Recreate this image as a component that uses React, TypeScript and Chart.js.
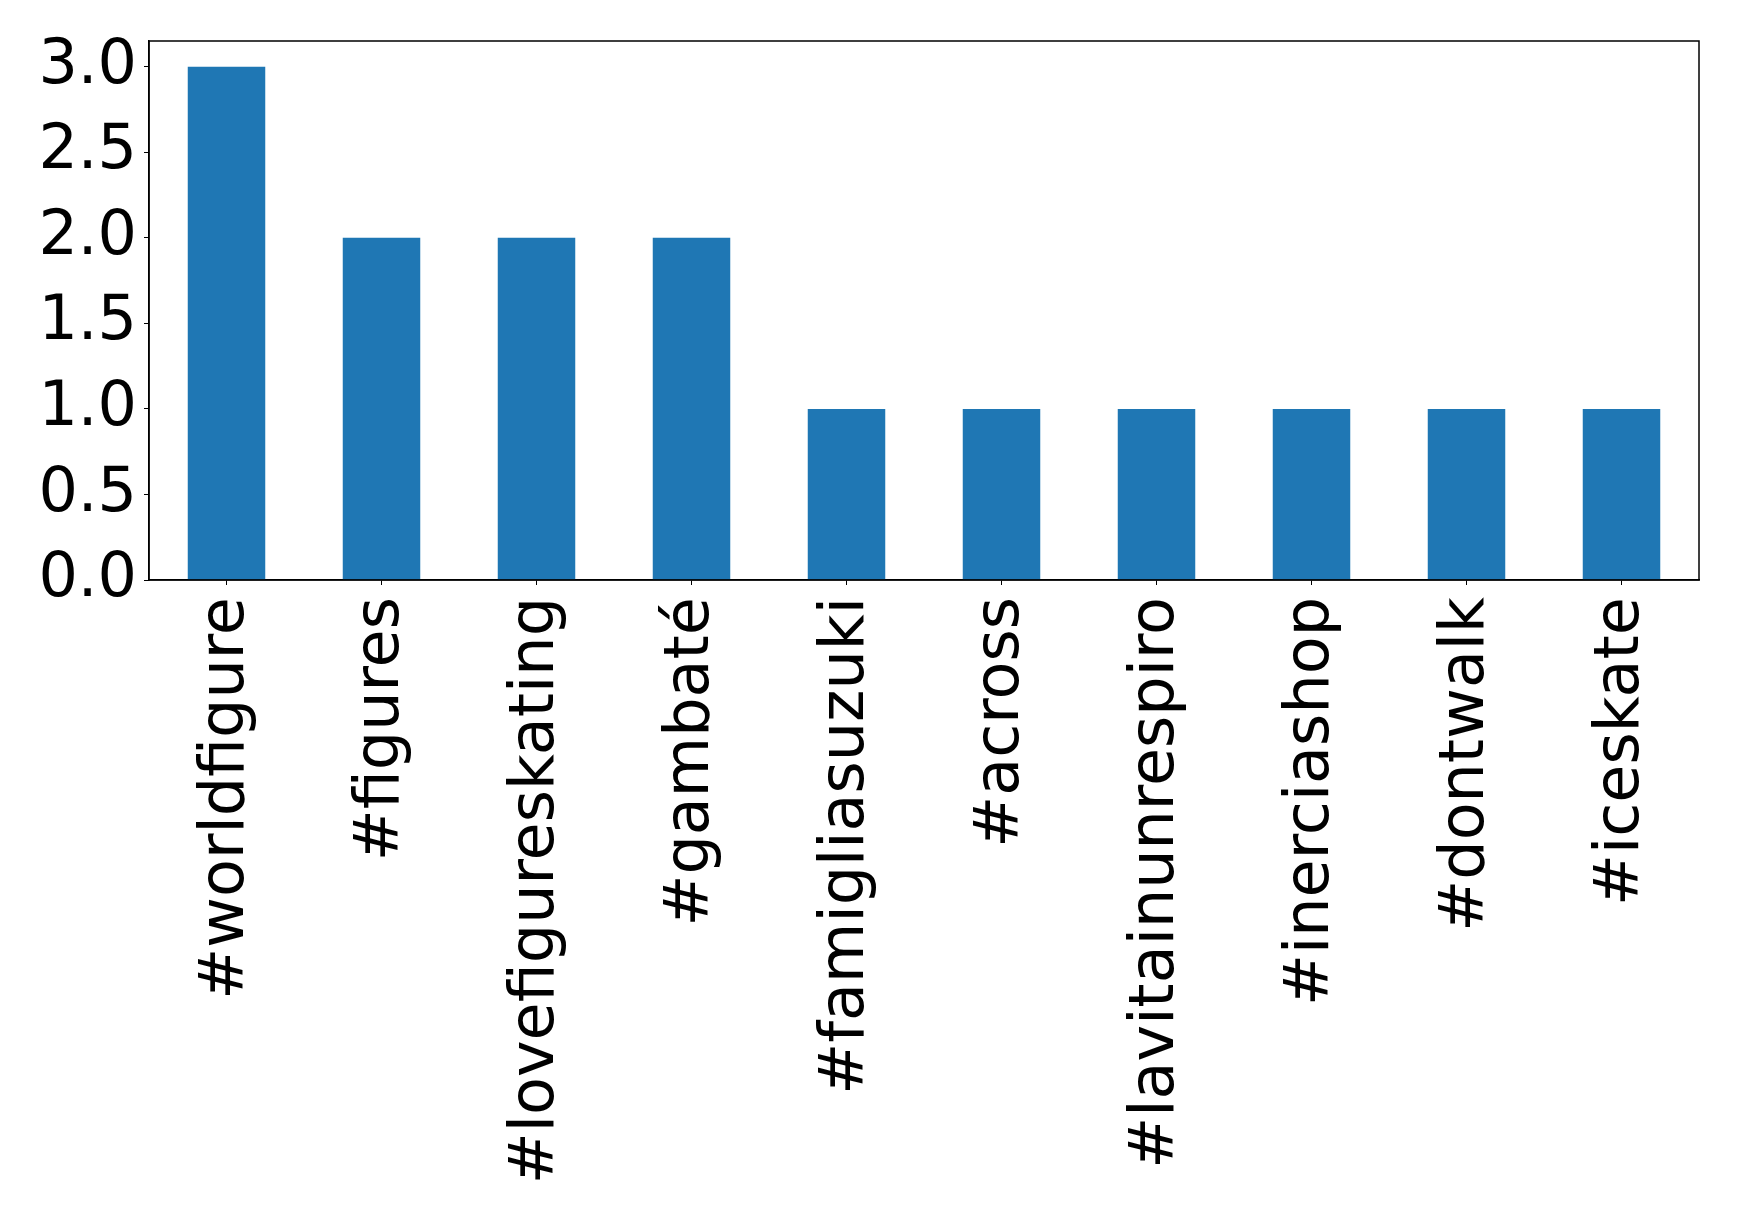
import React, { useEffect, useRef } from "react";
import { Chart, registerables } from "chart.js";

Chart.register(...registerables);

const categories = [
  "#worldfigure",
  "#figures",
  "#lovefigureskating",
  "#gambaté",
  "#famigliasuzuki",
  "#across",
  "#lavitainunrespiro",
  "#inerciashop",
  "#dontwalk",
  "#iceskate",
];
const counts = [3, 2, 2, 2, 1, 1, 1, 1, 1, 1];
const yTicks = [0, 0.5, 1.0, 1.5, 2.0, 2.5, 3.0];
const yMax = 3.15;

const W = 1739;
const H = 1220;
const FONT = "'DejaVu Sans'";
const FONT_SIZE = 62;

const framePlugin = {
  id: "frame",
  afterDraw(chart: any) {
    const { ctx, chartArea } = chart;
    ctx.save();
    ctx.strokeStyle = "#000";
    ctx.lineWidth = 1.5;
    ctx.strokeRect(chartArea.left, chartArea.top, chartArea.right - chartArea.left, chartArea.bottom - chartArea.top);
    ctx.restore();
  },
};

export default function App() {
  const ref = useRef<HTMLCanvasElement | null>(null);
  useEffect(() => {
    document.body.style.margin = "0";
    const chart = new Chart(ref.current as HTMLCanvasElement, {
      type: "bar",
      data: {
        labels: categories,
        datasets: [
          {
            data: counts,
            backgroundColor: "#1f77b4",
            barPercentage: 0.5,
            categoryPercentage: 1,
          },
        ],
      },
      options: {
        responsive: false,
        animation: false,
        layout: { padding: { top: 41, right: 40, left: 0, bottom: 0 } },
        plugins: { legend: { display: false }, tooltip: { enabled: false } },
        scales: {
          x: {
            offset: true,
            grid: { display: true, drawOnChartArea: false, drawTicks: true, tickLength: 5, color: "#000", offset: false },
            border: { display: true, color: "#000", width: 1.5 },
            ticks: {
              color: "#000",
              font: { family: FONT, size: FONT_SIZE },
              minRotation: 90,
              maxRotation: 90,
              padding: 12,
              autoSkip: false,
            },
            afterFit(scale: any) {
              scale.height = H - 580;
              scale.paddingLeft = 0;
              scale.paddingRight = 0;
            },
          },
          y: {
            min: 0,
            max: yMax,
            grid: { display: true, drawOnChartArea: false, drawTicks: true, tickLength: 5, color: "#000" },
            border: { display: true, color: "#000", width: 1.5 },
            ticks: {
              color: "#000",
              font: { family: FONT, size: FONT_SIZE },
              padding: 7,
              callback: (v: any) => Number(v).toFixed(1),
            },
            afterBuildTicks(scale: any) {
              scale.ticks = yTicks.map((v) => ({ value: v }));
            },
            afterFit(scale: any) {
              scale.width = 149;
              scale.paddingTop = 0;
              scale.paddingBottom = 0;
            },
          },
        },
      },
      plugins: [framePlugin],
    });
    return () => chart.destroy();
  }, []);
  return (
    <div style={{ position: "absolute", left: 0, top: 0, width: W, height: H, background: "#fff" }}>
      <canvas ref={ref} width={W} height={H} />
    </div>
  );
}
